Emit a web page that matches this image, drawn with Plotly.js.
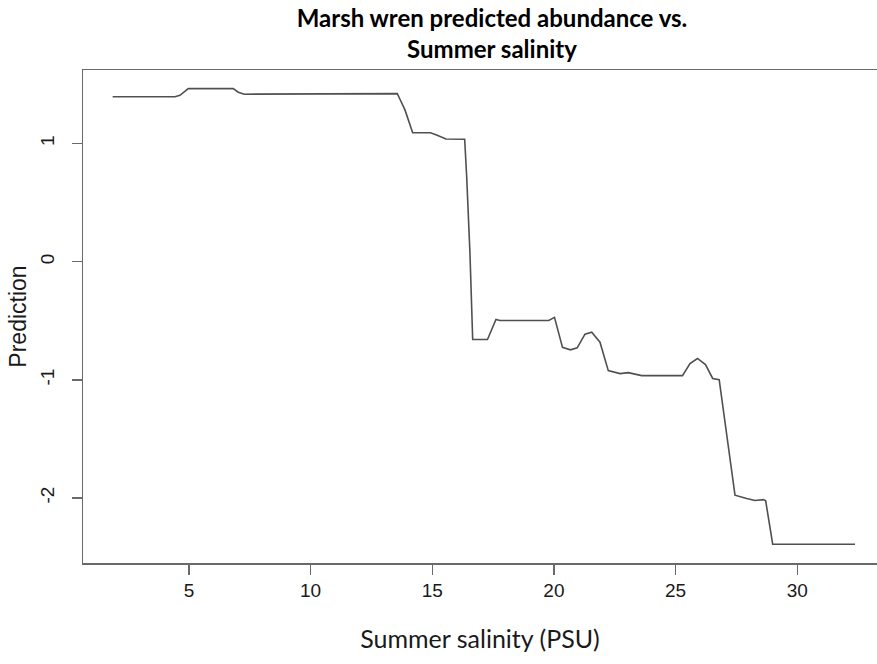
<!DOCTYPE html>
<html>
<head>
<meta charset="utf-8">
<script src="https://cdn.plot.ly/plotly-3.0.1.min.js"></script>
<style>html,body{margin:0;padding:0;background:#fff;}#chart{width:877px;height:664px;}</style>
</head>
<body>
<div id="chart"></div>
<script>
// Summer salinity (PSU) values along the partial-dependence curve
const salinity = [1.866, 4.427, 4.632, 4.973, 6.823, 7.028, 7.275, 10.316, 10.386, 13.563,
  13.674, 13.880, 14.196, 14.928, 15.154, 15.565, 16.334, 16.416, 16.551, 16.663,
  17.271, 17.620, 17.785, 19.790, 20.025, 20.354, 20.682, 20.958, 21.278, 21.554,
  21.895, 22.236, 22.717, 23.058, 23.609, 25.286, 25.594, 25.902, 26.231, 26.527,
  26.794, 27.102, 27.444, 27.924, 28.265, 28.606, 28.705, 28.993, 32.376];
// Predicted abundance
const prediction = [1.398, 1.398, 1.410, 1.466, 1.466, 1.436, 1.419, 1.419, 1.424, 1.424,
  1.376, 1.286, 1.093, 1.093, 1.076, 1.040, 1.037, 0.720, 0.071, -0.658,
  -0.658, -0.488, -0.497, -0.497, -0.471, -0.725, -0.746, -0.729, -0.613, -0.597,
  -0.681, -0.922, -0.947, -0.939, -0.964, -0.964, -0.863, -0.819, -0.871, -0.988,
  -0.998, -1.454, -1.977, -2.005, -2.022, -2.014, -2.025, -2.392, -2.392];
const xTicks = [5, 10, 15, 20, 25, 30];
const yTicks = [-2, -1, 0, 1];

const trace = {
  x: salinity, y: prediction, type: 'scatter', mode: 'lines',
  line: {color: '#505050', width: 1.6}, hoverinfo: 'skip'
};

const layout = {
  width: 877, height: 664,
  margin: {l: 83, r: 0, t: 70, b: 101},
  paper_bgcolor: '#ffffff', plot_bgcolor: '#ffffff',
  showlegend: false,
  title: {
    text: '<b>Marsh wren predicted abundance vs.<br>Summer salinity</b>',
    font: {family: 'Lato, sans-serif', size: 24, color: '#000'},
    x: 0.561, xref: 'container', xanchor: 'center',
    y: 0.96, yref: 'container', yanchor: 'top'
  },
  xaxis: {
    range: [0.647, 33.28], tickvals: xTicks, ticktext: xTicks.map(String),
    showgrid: false, zeroline: false,
    showline: true, mirror: true, linecolor: '#6a6a6a', linewidth: 1.5,
    ticks: 'outside', ticklen: 10, tickwidth: 1.3, tickcolor: '#6a6a6a',
    tickfont: {family: 'Liberation Sans, Arial, sans-serif', size: 19, color: '#1a1a1a'},
    title: {text: 'Summer salinity (PSU)', font: {family: 'Lato, sans-serif', size: 25, color: '#1a1a1a'}, standoff: 30}
  },
  yaxis: {
    range: [-2.551, 1.624], tickvals: yTicks, ticktext: yTicks.map(String),
    showgrid: false, zeroline: false,
    showline: true, mirror: false, linecolor: '#6a6a6a', linewidth: 1.5,
    ticks: 'outside', ticklen: 10, tickwidth: 1.3, tickcolor: '#6a6a6a',
    tickangle: -90, ticklabelstandoff: 10,
    tickfont: {family: 'Liberation Sans, Arial, sans-serif', size: 19, color: '#1a1a1a'},
    title: {text: 'Prediction', font: {family: 'Liberation Sans, Arial, sans-serif', size: 23, color: '#1a1a1a'}, standoff: 4}
  }
};

Plotly.newPlot('chart', [trace], layout, {displayModeBar: false, staticPlot: true});
</script>
</body>
</html>
